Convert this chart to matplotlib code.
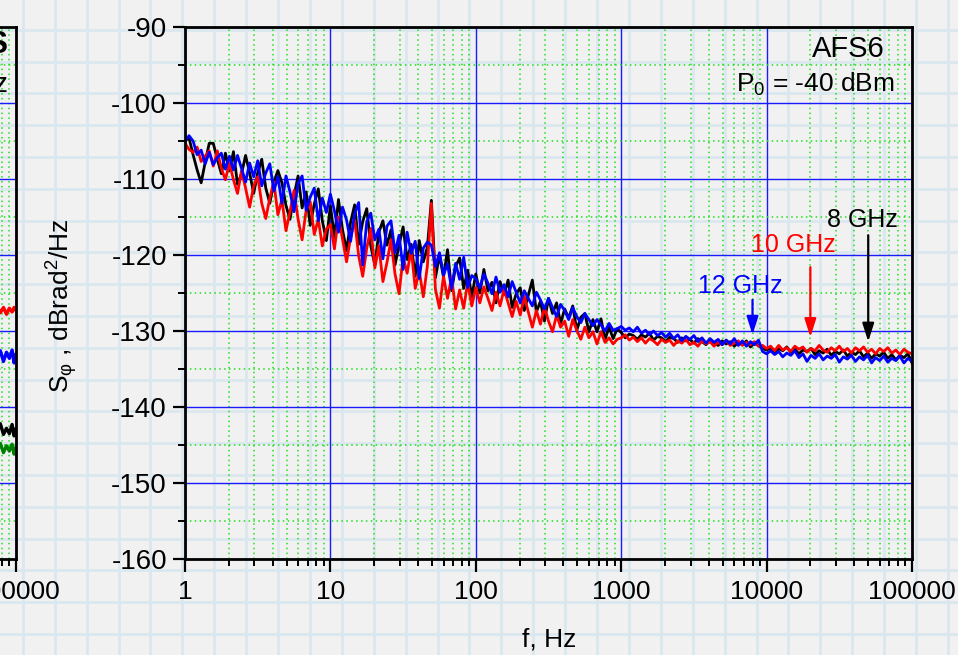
import numpy as np
import matplotlib
matplotlib.use("Agg")
import matplotlib.pyplot as plt
from matplotlib.ticker import LogLocator, MultipleLocator, NullFormatter, FixedLocator, FixedFormatter

plt.rcParams['font.family'] = ['Liberation Sans', 'DejaVu Sans']
plt.rcParams['mathtext.default'] = 'regular'
plt.rcParams['axes.unicode_minus'] = False

# ---------------- data ----------------
# frequency grid: 36 samples per decade from 1 Hz to 100 kHz (181 points)
freq = np.geomspace(1, 1e5, 181)

s8ghz = [
    # 1 - 10 Hz
    -105.0, -104.6, -106.8, -108.8, -110.5, -107.8, -105.3, -105.3, -107.4, -109.3, -106.6, -108.9,
    -106.4, -110.7, -109.3, -106.9, -109.2, -111.9, -109.2, -107.4, -111.2, -113.2, -110.4, -108.9,
    -110.5, -113.5, -115.3, -112.2, -109.6, -113.8, -111.7, -116.1, -113.3, -111.3, -115.5, -118.1,
    # 10 - 100 Hz
    -113.5, -117.7, -112.7, -116.7, -119.4, -115.7, -113.4, -118.6, -115.6, -113.9, -118.8, -121.3,
    -117.0, -115.5, -118.7, -116.7, -121.3, -118.7, -116.3, -120.6, -118.6, -122.8, -118.1, -120.9,
    -119.0, -112.8, -123.0, -120.0, -122.9, -119.3, -124.7, -121.5, -120.4, -124.4, -122.0, -125.5,
    # 100 - 1000 Hz
    -122.5, -125.0, -121.9, -124.7, -123.6, -126.3, -123.5, -125.2, -123.3, -126.9, -125.1, -124.3,
    -127.3, -125.3, -123.3, -127.5, -126.1, -128.7, -125.7, -127.7, -126.3, -129.0, -127.1, -128.3,
    -126.7, -129.9, -128.2, -127.7, -130.1, -128.5, -130.1, -128.4, -131.1, -129.5, -131.0, -129.7,
    # 1 - 10 kHz
    -130.2, -130.9, -130.4, -130.6, -131.1, -130.5, -130.8, -130.3, -131.2, -130.7, -130.9, -131.4,
    -130.8, -131.0, -131.5, -130.9, -131.3, -131.1, -131.6, -131.0, -131.4, -131.8, -131.2, -131.5,
    -131.9, -131.3, -131.7, -131.4, -132.0, -131.5, -131.8, -131.3, -132.1, -131.6, -131.9, -132.3,
    # 10 - 100 kHz
    -132.5, -132.2, -132.9, -132.3, -132.6, -132.1, -132.8, -132.4, -133.0, -132.5, -132.7, -132.3,
    -133.1, -132.6, -132.9, -132.4, -133.2, -132.7, -133.0, -132.5, -133.3, -132.8, -133.1, -132.6,
    -133.4, -132.9, -133.6, -133.0, -133.3, -132.8, -133.6, -133.1, -133.8, -133.2, -133.5, -133.0,
    -134.2,
]

s10ghz = [
    # 1 - 10 Hz
    -105.3, -106.1, -106.5, -105.8, -107.7, -107.0, -106.3, -108.3, -106.3, -108.6, -110.1, -107.9,
    -110.1, -111.9, -108.9, -111.2, -113.7, -110.9, -109.7, -113.2, -115.2, -112.5, -110.4, -114.7,
    -112.7, -116.8, -114.3, -111.5, -115.3, -118.0, -114.1, -113.0, -117.3, -115.3, -118.8, -116.6,
    # 10 - 100 Hz
    -116.0, -119.2, -115.0, -117.9, -120.9, -117.7, -115.4, -120.1, -122.8, -119.1, -116.5, -121.7,
    -118.8, -123.5, -121.0, -118.0, -122.5, -125.1, -120.3, -122.4, -119.2, -124.4, -122.1, -125.5,
    -121.5, -113.2, -124.5, -127.0, -122.8, -125.7, -122.9, -127.1, -124.6, -127.0, -123.6, -126.7,
    # 100 - 1000 Hz
    -124.3, -126.3, -124.2, -125.7, -127.3, -124.9, -126.7, -124.5, -126.3, -128.1, -126.1, -127.9,
    -125.4, -127.5, -129.5, -127.3, -129.1, -126.9, -128.7, -130.1, -127.9, -129.5, -128.7, -130.7,
    -128.5, -129.9, -131.1, -129.5, -130.9, -130.1, -131.7, -130.1, -131.5, -130.9, -131.7, -131.1,
    # 1 - 10 kHz
    -130.9, -130.5, -131.2, -130.8, -131.4, -130.9, -131.6, -131.0, -131.3, -131.8, -131.1, -131.5,
    -131.2, -131.9, -131.3, -131.6, -131.1, -131.8, -131.5, -132.0, -131.3, -131.7, -131.4, -132.0,
    -131.5, -131.8, -131.2, -131.9, -131.6, -131.3, -131.9, -131.5, -131.8, -131.4, -132.0, -131.9,
    # 10 - 100 kHz
    -132.3, -132.0, -132.6, -131.9, -132.5, -132.2, -132.7, -132.0, -132.4, -132.1, -132.8, -132.3,
    -132.6, -131.9, -132.5, -132.8, -132.2, -132.6, -132.0, -132.7, -132.3, -132.9, -132.2, -132.6,
    -132.1, -132.8, -132.4, -133.0, -132.3, -132.7, -132.2, -132.9, -132.5, -133.1, -132.4, -132.8,
    -133.0,
]

s12ghz = [
    # 1 - 10 Hz
    -105.0, -104.3, -105.0, -106.8, -106.2, -108.0, -106.5, -108.1, -107.2, -106.6, -108.7, -107.0,
    -108.8, -106.9, -108.6, -110.4, -107.9, -109.7, -107.6, -110.9, -109.2, -108.0, -111.6, -109.7,
    -113.2, -109.6, -111.7, -114.3, -110.6, -109.6, -114.1, -112.4, -111.2, -115.5, -112.5, -114.4,
    # 10 - 100 Hz
    -112.0, -114.2, -117.0, -113.7, -115.4, -118.2, -114.6, -113.1, -121.3, -115.6, -114.5, -118.0,
    -116.6, -120.5, -116.2, -115.5, -119.7, -117.4, -121.9, -117.0, -119.8, -118.2, -123.1, -119.1,
    -118.3, -118.7, -121.5, -119.7, -122.6, -121.2, -124.4, -121.1, -123.2, -120.3, -124.3, -122.7,
    # 100 - 1000 Hz
    -123.1, -124.3, -122.5, -123.7, -125.1, -122.9, -124.9, -123.9, -125.5, -123.5, -124.9, -126.3,
    -124.7, -125.7, -126.7, -124.9, -125.9, -127.1, -125.7, -126.9, -128.1, -126.5, -127.3, -128.5,
    -126.9, -128.1, -128.9, -127.7, -128.5, -129.3, -128.5, -129.2, -130.0, -129.0, -129.9, -129.7,
    # 1 - 10 kHz
    -129.4, -129.9, -129.6, -130.1, -129.5, -130.3, -129.9, -130.5, -130.0, -130.6, -130.2, -130.8,
    -130.3, -131.0, -130.5, -131.3, -130.7, -131.1, -130.6, -131.4, -130.9, -131.6, -131.0, -131.5,
    -131.1, -131.8, -131.2, -131.7, -131.0, -131.9, -131.3, -132.0, -131.4, -131.8, -131.2, -132.7,
    # 10 - 100 kHz
    -133.0, -132.6, -133.1, -132.7, -133.4, -132.9, -133.2, -132.6, -133.5, -133.0, -134.0, -133.2,
    -133.6, -133.0, -133.8, -133.3, -133.6, -133.1, -134.1, -133.4, -133.7, -133.2, -134.0, -133.4,
    -133.8, -133.2, -134.2, -133.5, -133.9, -133.3, -134.1, -133.6, -133.9, -133.3, -134.2, -133.6,
    -134.0,
]

# partially visible neighbouring panel (only its last ~0.1 decade is on screen)
left_freq = [70000, 74000, 78000, 82000, 86000, 90000, 94000, 97000, 100000]
left_red = [-127.4, -126.8, -127.6, -126.9, -127.8, -127.0, -127.5, -126.9, -127.3]
left_blue = [-133.0, -133.8, -132.6, -134.0, -132.8, -133.6, -132.5, -134.2, -133.1]
left_black = [-142.6, -143.4, -142.2, -143.6, -142.8, -143.5, -142.3, -143.8, -142.9]
left_green = [-145.2, -145.9, -144.8, -146.0, -145.1, -145.8, -144.9, -146.2, -145.4]

series = [("8 GHz", s8ghz, "black"), ("10 GHz", s10ghz, "#ff0000"), ("12 GHz", s12ghz, "#0000ff")]

yticks = [-160, -150, -140, -130, -120, -110, -100, -90]
xticks = [1, 10, 100, 1000, 10000, 100000]
xticklabels = ["1", "10", "100", "1000", "10000", "100000"]

ann = [  # label, colour, text pos (f, dB), arrow x f, arrow from dB, arrow to dB
    ("8 GHz", "black", 45300, -116.3, 50000, -117.4, -131.4),
    ("10 GHz", "#ff0000", 15300, -119.6, 20000, -121.6, -130.8),
    ("12 GHz", "#0000ff", 6560, -125.0, 8000, -125.9, -130.5),
]

# ---------------- figure ----------------
W, H = 958, 655
fig = plt.figure(figsize=(W / 100, H / 100), dpi=100)
fig.patch.set_facecolor('#f1f1f1')

# paper-like background grid
bg = fig.add_axes([0, 0, 1, 1], zorder=0)
bg.set_xlim(0, W)
bg.set_ylim(H, 0)
bg.axis('off')
for xv in np.arange(23 - 32 * 1, W + 32, 31.9):
    bg.axvline(xv, color='#dbe7ee', lw=2.0)
for yv in np.arange(30 - 32 * 1, H + 32, 31.8):
    bg.axhline(yv, color='#dbe7ee', lw=2.0)

L, R, T, B = 185, 912, 27, 559
pos = [L / W, 1 - B / H, (R - L) / W, (B - T) / H]


def style_axes(ax):
    ax.set_facecolor('none')
    ax.set_xscale('log')
    ax.set_xlim(1, 1e5)
    ax.set_ylim(-160, -90)
    ax.xaxis.set_major_locator(FixedLocator(xticks))
    ax.xaxis.set_major_formatter(FixedFormatter(xticklabels))
    ax.xaxis.set_minor_locator(LogLocator(base=10, subs=np.arange(2, 10), numticks=20))
    ax.xaxis.set_minor_formatter(NullFormatter())
    ax.yaxis.set_major_locator(FixedLocator(yticks))
    ax.yaxis.set_minor_locator(MultipleLocator(5))
    ax.set_axisbelow(True)
    ax.grid(which='major', color='#1a1aff', lw=1.0, ls='-')
    ax.grid(which='minor', color='#1ee01e', lw=1.1, ls=(0, (1, 2.2)))
    for sp in ax.spines.values():
        sp.set_linewidth(2.0)
        sp.set_color('black')
    ax.tick_params(which='major', direction='out', length=9, width=1.6, labelsize=20, top=False, right=False)
    ax.tick_params(which='minor', direction='out', length=5, width=1.4, top=False, right=False)
    ax.tick_params(axis='x', which='major', pad=6, labelsize=19)
    ax.tick_params(axis='y', which='major', pad=4)


# neighbouring (cut-off) panel on the left
axl = fig.add_axes([(16 - (R - L)) / W, pos[1], (R - L) / W, pos[3]], zorder=1)
style_axes(axl)
axl.set_yticklabels([])
for yv, c in [(left_red, '#ff0000'), (left_blue, '#0000ff'), (left_black, 'black'), (left_green, '#008000')]:
    axl.plot(left_freq, yv, color=c, lw=2.4)
fig.text(8 / W, 1 - 53 / H, "AFS", fontsize=22, fontweight='bold', ha='right', va='baseline')
fig.text(9 / W, 1 - 92 / H, "Hz", fontsize=20, ha='right', va='baseline')

# main panel
ax = fig.add_axes(pos, zorder=2)
style_axes(ax)
for name, vals, col in series:
    ax.plot(freq, vals, color=col, lw=2.0)

ax.set_xlabel("f, Hz", fontsize=19)
ax.xaxis.set_label_coords((549 - L) / (R - L), (B - 628) / (B - T))
ax.set_ylabel(r"S$_{\varphi}$ , dBrad$^2$/Hz", fontsize=19)
ax.yaxis.set_label_coords((80 - L) / (R - L), (B - 306) / (B - T))

ax.text((885 - L) / (R - L), (B - 57) / (B - T), "AFS6", transform=ax.transAxes,
        fontsize=21, ha='right', va='baseline')
ax.text((895 - L) / (R - L), (B - 92) / (B - T), r"P$_0$ = -40 dBm", transform=ax.transAxes,
        fontsize=19, ha='right', va='baseline')

for label, col, tx, ty, axf, y0, y1 in ann:
    ax.text(tx, ty, label, color=col, fontsize=18, ha='center', va='baseline')
    ax.annotate("", xy=(axf, y1), xytext=(axf, y0),
                arrowprops=dict(arrowstyle='-|>,head_length=1.1,head_width=0.35', mutation_scale=10,
                                color=col, lw=1.6, shrinkA=0, shrinkB=0))

fig.savefig("out.png", dpi=100, facecolor=fig.get_facecolor())
